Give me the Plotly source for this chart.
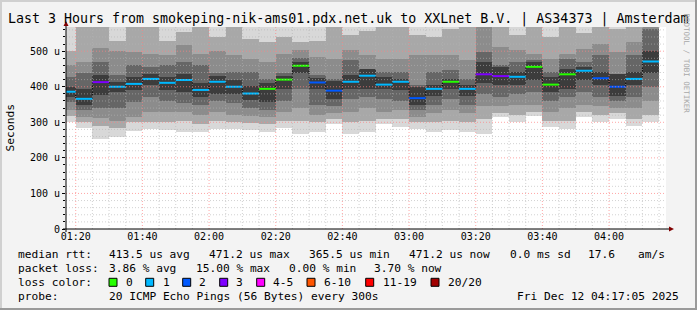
import pandas as pd
import plotly.graph_objects as go

# ---------------- data ----------------
interval_start = pd.date_range("2025-12-12 01:15", periods=36, freq="5min")
median_us = [386, 366, 413, 400, 408, 422, 411, 419, 391, 414, 400, 381, 394, 420, 459, 412, 389, 414,
             431, 406, 414, 368, 394, 414, 394, 435, 430, 428, 456, 406, 435, 445, 424, 400, 422, 471]
loss_count = [1, 1, 3, 1, 1, 1, 1, 1, 1, 1, 1, 1, 0, 0, 0, 2, 2, 1,
              1, 1, 1, 2, 1, 0, 1, 3, 3, 1, 0, 0, 0, 1, 2, 2, 1, 1]
# smoke bands (outer -> inner), lower and upper edges, in microseconds
lo0 = [302, 284, 254, 258, 276, 280, 278, 272, 272, 282, 281, 278, 272, 283, 267, 272, 296, 267,
       272, 296, 286, 282, 272, 278, 272, 267, 314, 300, 319, 286, 282, 314, 300, 310, 291, 300]
lo1 = [318, 300, 290, 285, 300, 300, 300, 305, 295, 305, 300, 298, 295, 305, 305, 300, 310, 300,
       305, 310, 310, 300, 300, 305, 300, 310, 325, 320, 330, 305, 305, 330, 320, 325, 310, 320]
lo2 = [335, 315, 312, 305, 315, 330, 330, 330, 320, 330, 320, 318, 315, 330, 340, 320, 325, 330,
       340, 330, 335, 315, 325, 335, 325, 345, 345, 350, 350, 330, 340, 350, 345, 340, 340, 360]
lo3 = [357, 335, 340, 340, 356, 370, 360, 355, 350, 360, 355, 340, 335, 360, 395, 350, 345, 365,
       370, 365, 360, 335, 350, 365, 350, 380, 370, 380, 385, 360, 370, 385, 370, 360, 370, 400]
lo4 = [372, 350, 378, 385, 390, 404, 392, 385, 372, 380, 380, 362, 357, 395, 440, 395, 365, 395,
       395, 395, 390, 348, 375, 395, 375, 410, 405, 405, 418, 385, 395, 420, 405, 375, 405, 440]
hi4 = [400, 395, 432, 412, 427, 436, 427, 436, 410, 430, 420, 403, 410, 430, 470, 425, 415, 432,
       450, 427, 423, 400, 405, 423, 405, 470, 455, 441, 470, 427, 450, 455, 441, 437, 441, 500]
hi3 = [427, 440, 470, 432, 460, 455, 460, 470, 460, 440, 441, 441, 422, 440, 482, 432, 422, 474,
       450, 441, 441, 405, 441, 446, 423, 498, 460, 470, 474, 441, 478, 470, 488, 437, 488, 563]
hi2 = [460, 470, 508, 500, 498, 493, 488, 516, 493, 500, 488, 478, 470, 493, 502, 483, 478, 502,
       488, 478, 478, 488, 488, 488, 474, 600, 512, 502, 493, 478, 493, 507, 521, 498, 526, 600]
hi1 = [500, 600, 600, 530, 600, 600, 530, 554, 600, 540, 600, 535, 526, 540, 526, 530, 600, 545,
       558, 600, 600, 545, 540, 563, 600, 600, 600, 545, 600, 540, 600, 550, 600, 563, 600, 600]
hi0 = [620] * 36

loss_labels = ["0", "1", "2", "3", "4-5", "6-10", "11-19", "20/20"]
loss_colors = ["#26ff00", "#00b8ff", "#0059ff", "#7e00ff", "#ff00ff", "#ff5500", "#ff0000", "#a10000"]
y_tickvals = [0, 100, 200, 300, 400, 500]
y_ticktext = ["0", "100 u", "200 u", "300 u", "400 u", "500 u"]

title_text = "Last 3 Hours from smokeping-nik-ams01.pdx.net.uk to XXLnet B.V. | AS34373 | Amsterdam"
legend_rows = [
    [("median rtt:", 16.3), ("413.5 us avg", 107.3), ("471.2 us max", 207.3), ("365.5 us min", 307.3),
     ("471.2 us now", 407.3), ("0.0 ms sd", 507.7), ("17.6", 585.7), ("am/s", 635.7)],
    [("packet loss:", 16.3), ("3.86 % avg", 107.3), ("15.00 % max", 194.0), ("0.00 % min", 286.5),
     ("3.70 % now", 372.3)],
    [("loss color:", 16.3)],
    [("probe:", 16.3), ("20 ICMP Echo Pings (56 Bytes) every 300s", 107.3)],
]
date_text = "Fri Dec 12 04:17:05 2025"
legend_row_y = [254.7, 268.3, 282.3, 296.0]
loss_box_x = [109, 145.7, 182.7, 219.7, 256.7, 307, 365.7, 431]
loss_label_x = [124, 160.7, 197.3, 234.3, 271.3, 321.7, 380.7, 445.7]

# ---------------- layout geometry ----------------
W, H = 697, 310
L, R, T, B = 66, 666, 27, 229
FONT = "DejaVu Sans Mono"
LEG_SIZE = 11.2
x_start = pd.Timestamp("2025-12-12 01:17:05")
x_end = pd.Timestamp("2025-12-12 04:17:05")
Y_MAX = 568


def px(x):
    return (x - L) / (R - L)


def py(y):
    return (B - y) / (B - T)


fig = go.Figure()

band_colors = ["#d8d8d8", "#a8a8a8", "#8c8c8c", "#666666", "#3c3c3c"]
bands = [(lo0, hi0), (lo1, hi1), (lo2, hi2), (lo3, hi3), (lo4, hi4)]
for (lo, hi), col in zip(bands, band_colors):
    fig.add_trace(go.Bar(
        x=interval_start, base=lo, y=[h - l for l, h in zip(lo, hi)],
        width=300000, offset=0, marker=dict(color=col, line=dict(width=0)),
        showlegend=False, hoverinfo="skip"))

# black dotted step of the median
step_x = list(interval_start) + [interval_start[-1] + pd.Timedelta(minutes=5)]
step_y = median_us + [median_us[-1]]
fig.add_trace(go.Scatter(x=step_x, y=step_y, mode="lines", line_shape="hv",
                         line=dict(color="#000000", width=1, dash="1px,1px"),
                         showlegend=False, hoverinfo="skip"))

# coloured median segments by loss
for k, col in enumerate(loss_colors):
    xs, ys = [], []
    for t, m, lc in zip(interval_start, median_us, loss_count):
        if lc == k:
            xs += [t, t + pd.Timedelta(minutes=5), None]
            ys += [m, m, None]
    if xs:
        fig.add_trace(go.Scatter(x=xs, y=ys, mode="lines", line=dict(color=col, width=2),
                                 showlegend=False, hoverinfo="skip"))

shapes = []
# grid lines (drawn above the smoke, like rrdtool)
for v in range(20, Y_MAX, 20):
    major = v % 100 == 0
    shapes.append(dict(type="line", xref="paper", yref="y", x0=0, x1=1, y0=v, y1=v, layer="above",
                       line=dict(color="rgba(255,128,128,0.7)" if major else "rgba(180,180,180,0.6)",
                                 width=1, dash="1px,2px")))
for t in pd.date_range("2025-12-12 01:20", "2025-12-12 04:15", freq="5min"):
    major = t.minute % 20 == 0
    shapes.append(dict(type="line", xref="x", yref="paper", x0=t, x1=t, y0=0, y1=1, layer="above",
                       line=dict(color="rgba(255,128,128,0.7)" if major else "rgba(180,180,180,0.6)",
                                 width=1, dash="1px,2px")))
# axes with arrows
shapes.append(dict(type="line", xref="paper", yref="paper", x0=px(63), x1=px(670), y0=py(B), y1=py(B),
                   layer="above", line=dict(color="#000000", width=1)))
shapes.append(dict(type="line", xref="paper", yref="paper", x0=0, x1=0, y0=py(232), y1=py(24),
                   layer="above", line=dict(color="#000000", width=1)))
shapes.append(dict(type="path", xref="paper", yref="paper",
                   path=f"M {px(669)} {py(B-2.5)} L {px(674)} {py(B)} L {px(669)} {py(B+2.5)} Z",
                   fillcolor="#800000", line=dict(width=0), layer="above"))
shapes.append(dict(type="path", xref="paper", yref="paper",
                   path=f"M {px(L-2.5)} {py(26)} L {px(L)} {py(21)} L {px(L+2.5)} {py(26)} Z",
                   fillcolor="#800000", line=dict(width=0), layer="above"))
# frame shading of the image
shapes.append(dict(type="rect", xref="paper", yref="paper", x0=px(695), x1=px(697), y0=py(310), y1=py(0),
                   fillcolor="#9a9a9a", line=dict(width=0), layer="above"))
shapes.append(dict(type="rect", xref="paper", yref="paper", x0=px(0), x1=px(697), y0=py(310), y1=py(308),
                   fillcolor="#9a9a9a", line=dict(width=0), layer="above"))
shapes.append(dict(type="rect", xref="paper", yref="paper", x0=px(0), x1=px(695), y0=py(2), y1=py(0),
                   fillcolor="#d0d0d0", line=dict(width=0), layer="above"))
shapes.append(dict(type="rect", xref="paper", yref="paper", x0=px(0), x1=px(2), y0=py(308), y1=py(0),
                   fillcolor="#d0d0d0", line=dict(width=0), layer="above"))
# loss colour boxes
for bx, col in zip(loss_box_x, loss_colors):
    shapes.append(dict(type="rect", xref="paper", yref="paper", x0=px(bx), x1=px(bx + 8),
                       y0=py(286.3), y1=py(278.3), fillcolor=col,
                       line=dict(color="#000000", width=1), layer="above"))

annotations = []
annotations.append(dict(text=title_text, xref="paper", yref="paper", x=px(348), y=py(19.3),
                        xanchor="center", yanchor="middle", showarrow=False,
                        font=dict(family=FONT, size=13.3, color="#000000")))
annotations.append(dict(text="Seconds", xref="paper", yref="paper", x=px(10), y=py(127.5),
                        xanchor="center", yanchor="middle", showarrow=False, textangle=-90,
                        font=dict(family=FONT, size=11.3, color="#000000")))
annotations.append(dict(text="RRDTOOL / TOBI OETIKER", xref="paper", yref="paper", x=px(686), y=py(63.5),
                        xanchor="center", yanchor="middle", showarrow=False, textangle=90,
                        font=dict(family=FONT, size=7.5, color="#a8a8a8")))
for row, yy in zip(legend_rows, legend_row_y):
    for txt, xx in row:
        annotations.append(dict(text=txt, xref="paper", yref="paper", x=px(xx), y=py(yy),
                                xanchor="left", yanchor="middle", showarrow=False,
                                font=dict(family=FONT, size=LEG_SIZE, color="#000000")))
annotations.append(dict(text=date_text, xref="paper", yref="paper", x=px(681), y=py(legend_row_y[3]),
                        xanchor="right", yanchor="middle", showarrow=False,
                        font=dict(family=FONT, size=LEG_SIZE, color="#000000")))
for lab, xx in zip(loss_labels, loss_label_x):
    annotations.append(dict(text=lab, xref="paper", yref="paper", x=px(xx), y=py(legend_row_y[2]),
                            xanchor="left", yanchor="middle", showarrow=False,
                            font=dict(family=FONT, size=LEG_SIZE, color="#000000")))

fig.update_layout(
    width=W, height=H, autosize=False,
    margin=dict(l=L, r=W - R, t=T, b=H - B, pad=0),
    paper_bgcolor="#f3f3f3", plot_bgcolor="#ffffff",
    barmode="overlay", bargap=0, showlegend=False,
    shapes=shapes, annotations=annotations,
    xaxis=dict(range=[x_start, x_end], type="date", showgrid=False, zeroline=False,
               tick0="2025-12-12 01:20", dtick=1200000, tickformat="%H:%M",
               ticks="", showline=False,
               tickfont=dict(family=FONT, size=10, color="#000000")),
    yaxis=dict(range=[0, Y_MAX], showgrid=False, zeroline=False, showline=False,
               tickvals=y_tickvals, ticktext=y_ticktext, ticks="outside", ticklen=3,
               tickcolor="#000000",
               minor=dict(ticks="outside", ticklen=2, dtick=20, tickcolor="#000000", showgrid=False),
               tickfont=dict(family=FONT, size=10, color="#000000")),
)

fig.write_html("out.html")
